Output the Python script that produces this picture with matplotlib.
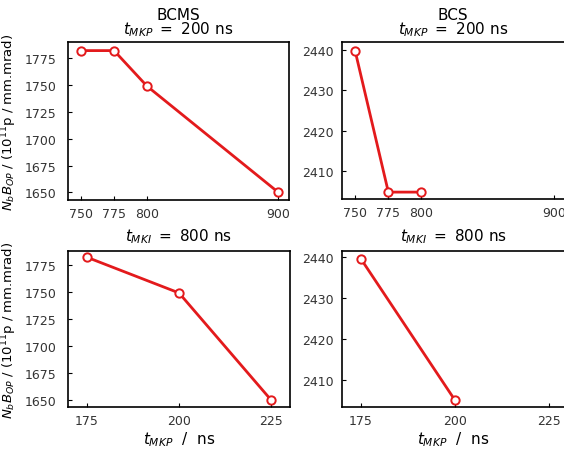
import matplotlib.pyplot as plt

# data
tmki = [750, 775, 800, 900]
bcms_tmki = [1782, 1782, 1749, 1650]
bcs_tmki_x = [750, 775, 800]
bcs_tmki = [2439.6, 2404.9, 2404.9]

tmkp = [175, 200, 225]
bcms_tmkp = [1782, 1749, 1650]
bcs_tmkp_x = [175, 200]
bcs_tmkp = [2439.6, 2404.9]

bcms_yticks = [1650, 1675, 1700, 1725, 1750, 1775]
bcs_yticks = [2410, 2420, 2430, 2440]

red = '#e31a1c'
W, H = 564, 452

fig = plt.figure(figsize=(W / 100, H / 100), dpi=100)

def box(x0, y0, x1, y1):
    return [x0 / W, 1 - y1 / H, (x1 - x0) / W, (y1 - y0) / H]

ax1 = fig.add_axes(box(68, 43, 289, 201))
ax2 = fig.add_axes(box(342, 43, 564.5, 200))
ax3 = fig.add_axes(box(68, 252, 290, 408))
ax4 = fig.add_axes(box(342, 252, 564.5, 408))

def style(ax, ypad):
    for s in ax.spines.values():
        s.set_linewidth(1.2)
    ax.tick_params(direction='in', length=3, width=0.8, labelsize=9,
                   colors='black', labelcolor='#333333')
    ax.tick_params(axis='y', pad=ypad)
    ax.tick_params(axis='x', pad=5)

kw = dict(color=red, lw=2, marker='o', ms=6, mfc='white', mec=red, mew=1.4)

top_mkp = r'$t_{MKP}$ $=$ 200 ns'
bot_mki = r'$t_{MKI}$ $=$ 800 ns'
xlab = r'$t_{MKP}$  /  ns'
ylab = r'$N_bB_{OP}$ / ($10^{11}$p / mm.mrad)'

ax1.plot(tmki, bcms_tmki, **kw)
ax1.set_xlim(740, 908)
ax1.set_ylim(1643, 1790)
ax1.set_xticks(tmki)
ax1.set_yticks(bcms_yticks)
ax1.set_title('BCMS\n' + top_mkp, fontsize=11, pad=6, linespacing=0.85)

ax2.plot(bcs_tmki_x, bcs_tmki, **kw)
ax2.set_xlim(740, 908)
ax2.set_ylim(2403.2, 2441.9)
ax2.set_xticks(tmki)
ax2.set_yticks(bcs_yticks)
ax2.set_title('BCS\n' + top_mkp, fontsize=11, pad=6, linespacing=0.85)

ax3.plot(tmkp, bcms_tmkp, **kw)
ax3.set_xlim(170, 230)
ax3.set_ylim(1644, 1787.6)
ax3.set_xticks(tmkp)
ax3.set_yticks(bcms_yticks)
ax3.set_title(bot_mki, fontsize=11, pad=8)
ax3.set_xlabel(xlab, fontsize=11, labelpad=2)

ax4.plot(bcs_tmkp_x, bcs_tmkp, **kw)
ax4.set_xlim(170, 229)
ax4.set_ylim(2403.3, 2441.5)
ax4.set_xticks(tmkp)
ax4.set_yticks(bcs_yticks)
ax4.set_title(bot_mki, fontsize=11, pad=8)
ax4.set_xlabel(xlab, fontsize=11, labelpad=2)

for ax in (ax1, ax3):
    ax.set_ylabel(ylab, fontsize=9.5, labelpad=4)
    style(ax, 8)
for ax in (ax2, ax4):
    style(ax, 6)

fig.savefig('out.png', dpi=100)
